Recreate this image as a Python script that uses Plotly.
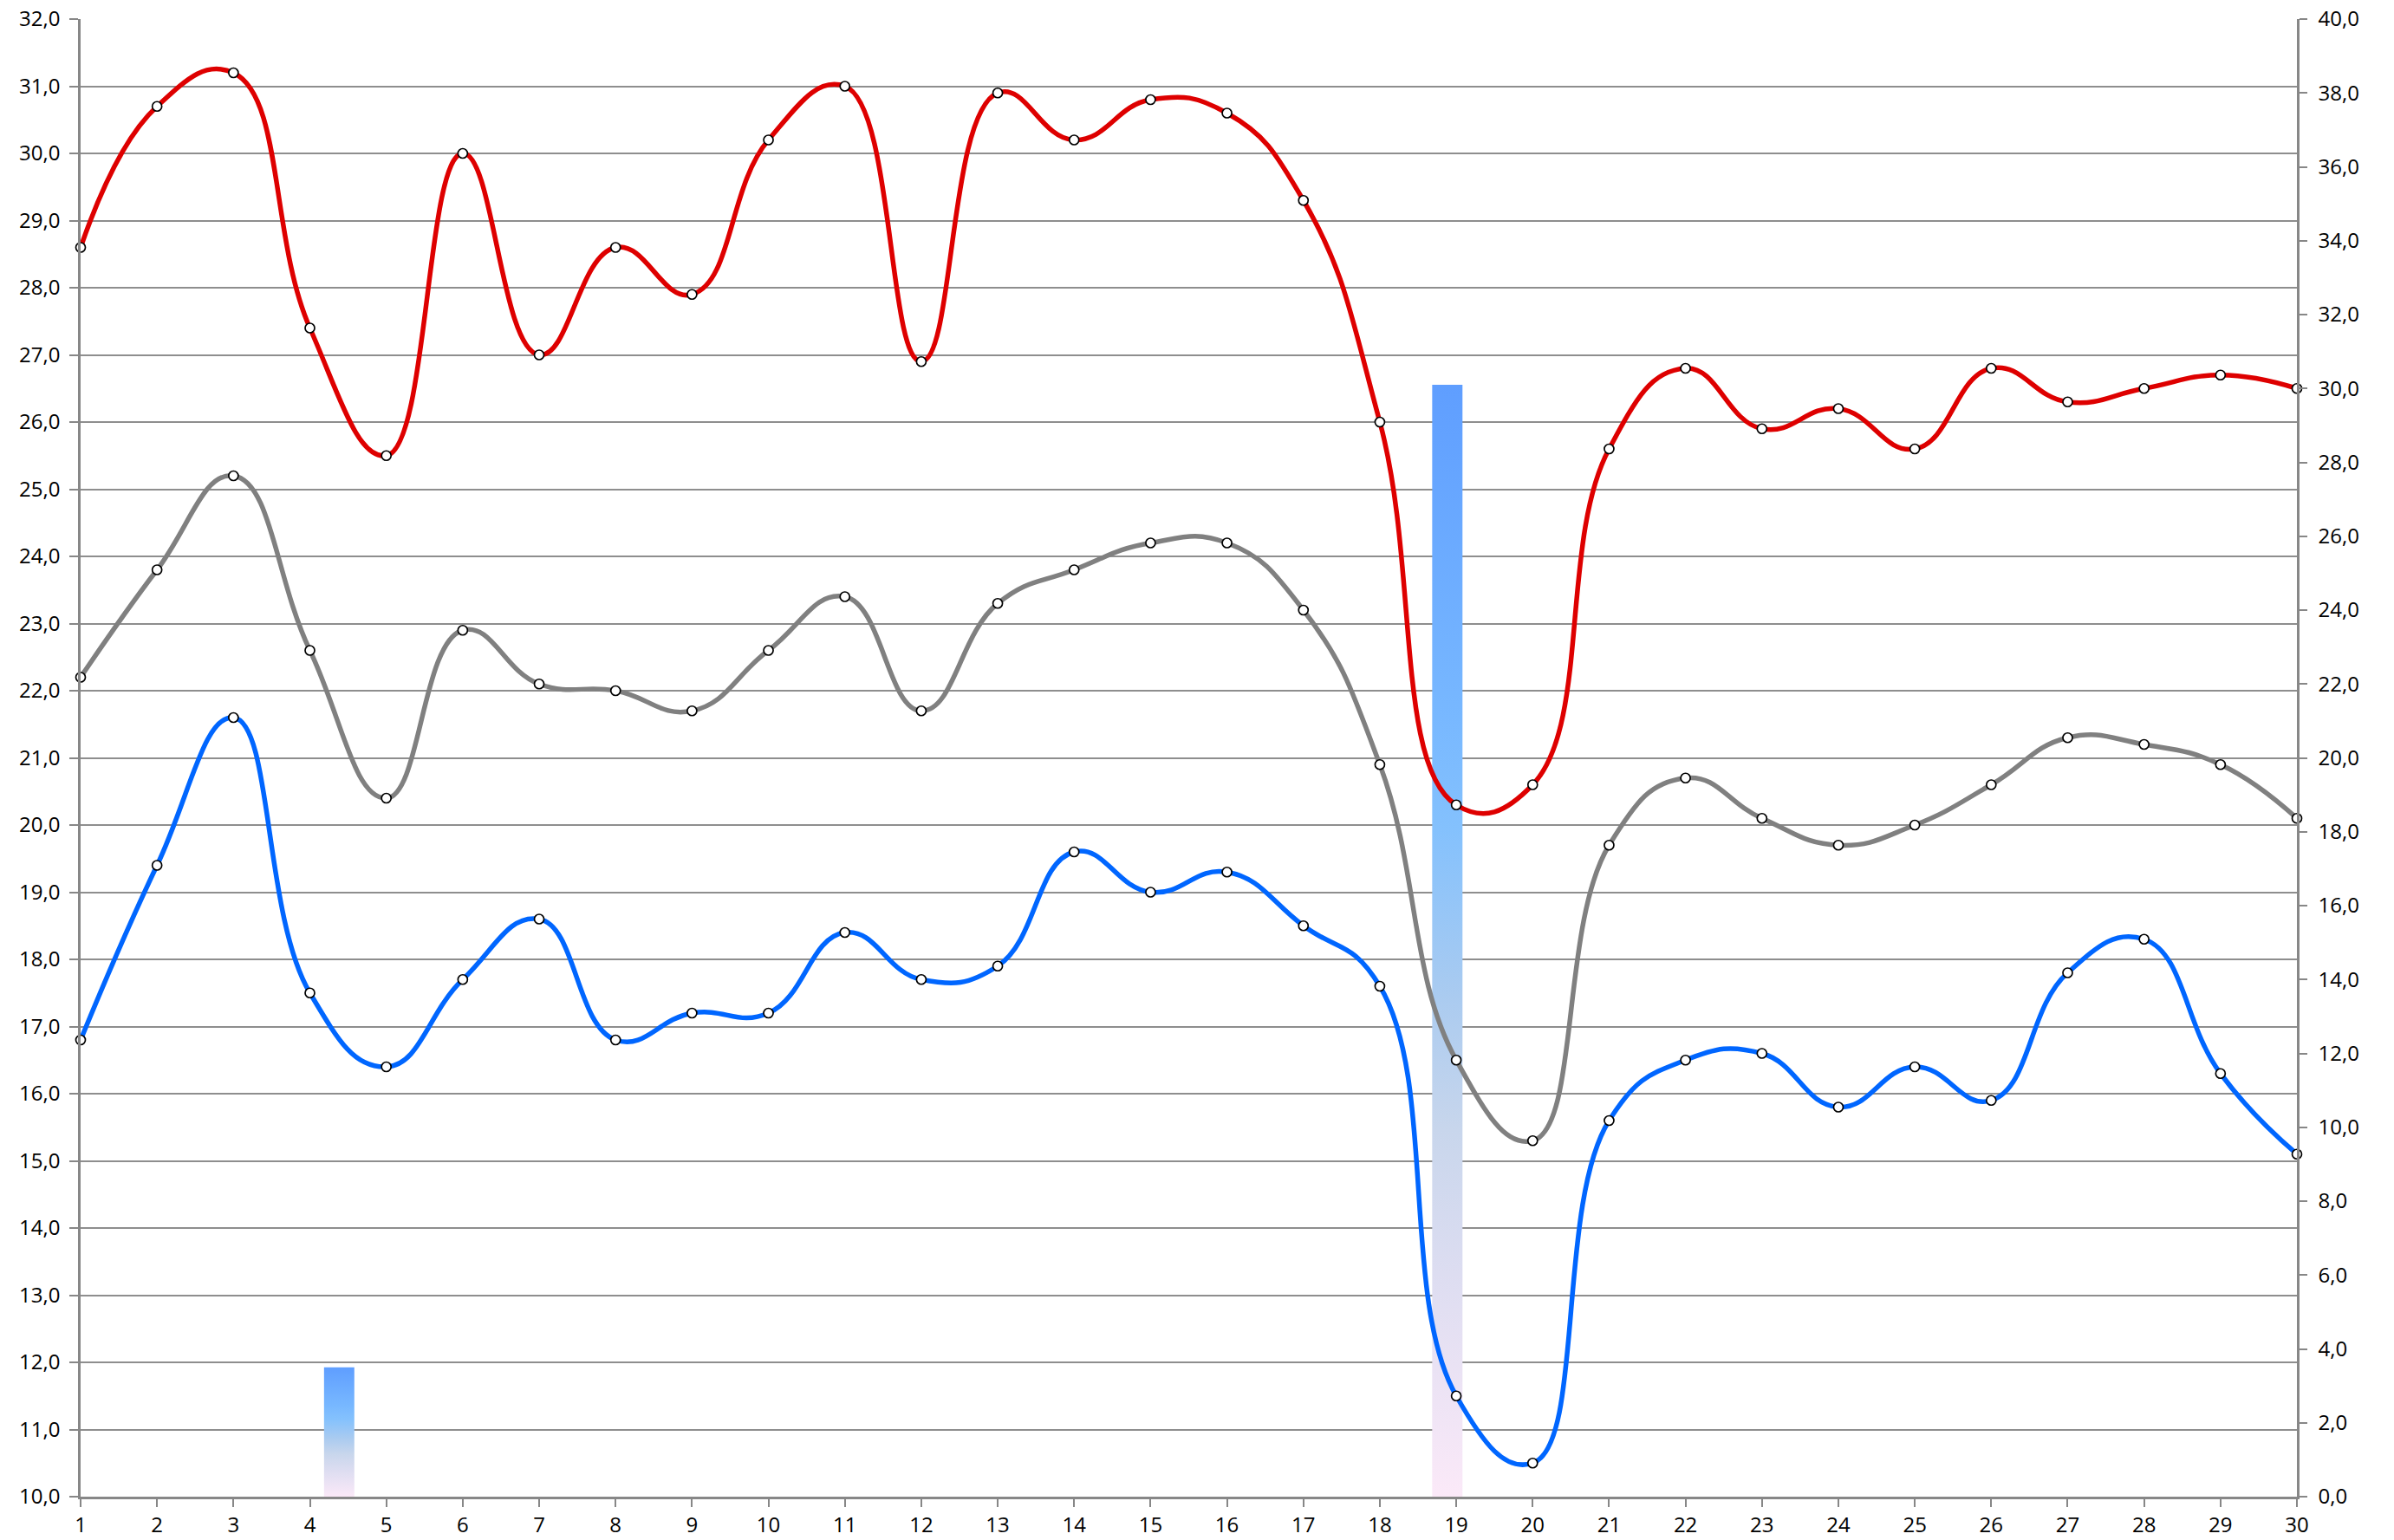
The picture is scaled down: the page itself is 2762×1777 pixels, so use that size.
import plotly.graph_objects as go

days = list(range(1, 31))

red_vals = [28.6, 30.7, 31.2, 27.4, 25.5, 30.0, 27.0, 28.6, 27.9, 30.2,
            31.0, 26.9, 30.9, 30.2, 30.8, 30.6, 29.3, 26.0, 20.3, 20.6,
            25.6, 26.8, 25.9, 26.2, 25.6, 26.8, 26.3, 26.5, 26.7, 26.5]

gray_vals = [22.2, 23.8, 25.2, 22.6, 20.4, 22.9, 22.1, 22.0, 21.7, 22.6,
             23.4, 21.7, 23.3, 23.8, 24.2, 24.2, 23.2, 20.9, 16.5, 15.3,
             19.7, 20.7, 20.1, 19.7, 20.0, 20.6, 21.3, 21.2, 20.9, 20.1]

blue_vals = [16.8, 19.4, 21.6, 17.5, 16.4, 17.7, 18.6, 16.8, 17.2, 17.2,
             18.4, 17.7, 17.9, 19.6, 19.0, 19.3, 18.5, 17.6, 11.5, 10.5,
             15.6, 16.5, 16.6, 15.8, 16.4, 15.9, 17.8, 18.3, 16.3, 15.1]

bar_days = [4, 19]
bar_vals = [3.5, 30.1]

left_ticks = list(range(10, 33))
right_ticks = list(range(0, 41, 2))

BAR_WIDTH = 0.41
FONT = "Open Sans"
AXIS_COLOR = "#878787"
GRID_COLOR = "#8E8E8E"

bar_scale = [
    [0.0, "#FBE9F8"],
    [0.20, "#DDDDF1"],
    [0.33, "#C8D6EC"],
    [0.45, "#AACBF0"],
    [0.60, "#84C1FD"],
    [0.70, "#78B8FF"],
    [1.0, "#5F9EFF"],
]

fig = go.Figure()

# bars on the main (secondary-scale) subplot, drawn beneath the lines
for d, v in zip(bar_days, bar_vals):
    x0, x1 = d - BAR_WIDTH / 2, d + BAR_WIDTH / 2
    fig.add_trace(go.Scatter(
        x=[x0, x0, x1, x1, x0], y=[0, v, v, 0, 0],
        mode="lines", line=dict(width=0), fill="toself",
        fillgradient=dict(type="vertical", colorscale=bar_scale, start=0, stop=v),
        hoverinfo="skip", showlegend=False, xaxis="x", yaxis="y",
    ))

for vals, color in [(red_vals, "#DE0000"), (gray_vals, "#808080"), (blue_vals, "#0066FF")]:
    fig.add_trace(go.Scatter(
        x=days, y=vals, mode="lines+markers",
        line=dict(color=color, width=5.5, shape="spline", smoothing=1.3),
        marker=dict(size=11, color="white", line=dict(color="black", width=1.7)),
        cliponaxis=False, showlegend=False, xaxis="x2", yaxis="y2",
    ))

tickfont = dict(family=FONT, size=24, color="#000000")

fig.update_layout(
    width=2762, height=1777,
    margin=dict(l=85, r=120, t=14, b=58, autoexpand=False),
    paper_bgcolor="white", plot_bgcolor="white",
    separators=",.",
    showlegend=False,
    xaxis=dict(range=[0.5, 30.5], visible=False, showgrid=False, zeroline=False,
               automargin=False),
    yaxis=dict(range=[0, 40], side="right", tickvals=right_ticks, tickformat=".1f",
               showgrid=False, zeroline=False, showline=True, linecolor=AXIS_COLOR,
               linewidth=2.5, ticks="outside", ticklen=9, tickwidth=2, tickcolor=AXIS_COLOR,
               tickfont=tickfont, ticklabelstandoff=8, ticklabeloverflow="allow",
               automargin=False),
    xaxis2=dict(range=[1, 30], overlaying="x", anchor="y2", side="bottom",
                tickvals=days, showgrid=False, zeroline=False, showline=True,
                linecolor=AXIS_COLOR, linewidth=2.5, ticks="outside", ticklen=9,
                tickwidth=2, tickcolor=AXIS_COLOR, tickfont=tickfont,
                ticklabeloverflow="allow", automargin=False),
    yaxis2=dict(range=[10, 32], overlaying="y", anchor="x2", side="left",
                tickvals=left_ticks, tickformat=".1f", showgrid=True,
                gridcolor=GRID_COLOR, gridwidth=2, zeroline=False, showline=True,
                linecolor=AXIS_COLOR, linewidth=2.5, ticks="outside", ticklen=10,
                tickwidth=2, tickcolor=AXIS_COLOR, tickfont=tickfont, ticklabelstandoff=6,
                ticklabeloverflow="allow", automargin=False),
)

fig.write_html("out.html")
